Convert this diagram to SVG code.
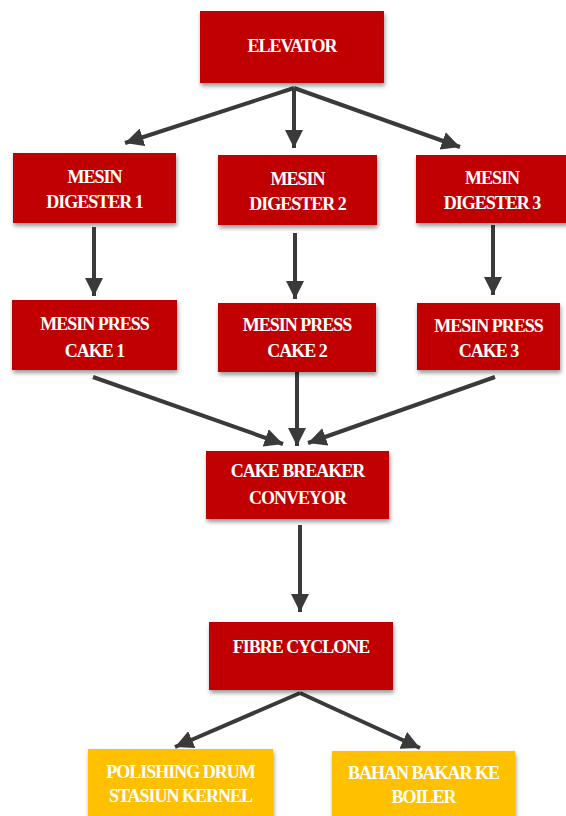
<svg xmlns="http://www.w3.org/2000/svg" width="566" height="816" viewBox="0 0 566 816">
<defs>
<filter id="sh" x="-10%" y="-20%" width="130%" height="150%">
<feDropShadow dx="1" dy="3" stdDeviation="2" flood-color="#000" flood-opacity="0.4"/>
</filter>
<marker id="ah" viewBox="0 0 10 10" refX="10" refY="5" markerWidth="4.6" markerHeight="4.6" markerUnits="strokeWidth" orient="auto">
<path d="M0,0 L10,5 L0,10 z" fill="#3a3a3a"/>
</marker>
<style>
.r{fill:#C00000;filter:url(#sh)}
.y{fill:#FFC000;filter:url(#sh)}
.t{fill:#fff;font-family:"Liberation Serif","DejaVu Serif",serif;font-weight:bold;font-size:18px;letter-spacing:-1px;text-anchor:middle}
.c{stroke:#3a3a3a;stroke-width:4;fill:none;marker-end:url(#ah)}
</style>
</defs>
<rect width="566" height="816" fill="#fff"/>
<g id="connectors">
<line class="c" x1="294" y1="88" x2="125" y2="143"/>
<line class="c" x1="294" y1="88" x2="294" y2="148"/>
<line class="c" x1="294" y1="88" x2="460" y2="147"/>
<line class="c" x1="94" y1="227" x2="94" y2="296"/>
<line class="c" x1="295" y1="233" x2="295" y2="299"/>
<line class="c" x1="493" y1="225" x2="493" y2="295"/>
<line class="c" x1="93" y1="377" x2="283" y2="444"/>
<line class="c" x1="297" y1="372" x2="297" y2="446"/>
<line class="c" x1="495" y1="377" x2="308" y2="443"/>
<line class="c" x1="300" y1="525" x2="300" y2="612"/>
<line class="c" x1="300" y1="693" x2="175" y2="747"/>
<line class="c" x1="300" y1="693" x2="420" y2="748"/>
</g>
<g id="elevator"><rect class="r" x="200" y="11" width="184" height="72"/><text class="t" x="292" y="52">ELEVATOR</text></g>
<g id="digester1"><rect class="r" x="13" y="153" width="163" height="70"/><text class="t" x="94.5" y="183">MESIN</text><text class="t" x="94.5" y="208">DIGESTER 1</text></g>
<g id="digester2"><rect class="r" x="218" y="155" width="159" height="70"/><text class="t" x="297.5" y="185">MESIN</text><text class="t" x="297.5" y="210">DIGESTER 2</text></g>
<g id="digester3"><rect class="r" x="416" y="155" width="152" height="68"/><text class="t" x="492" y="184">MESIN</text><text class="t" x="492" y="209">DIGESTER 3</text></g>
<g id="press1"><rect class="r" x="12" y="300" width="165" height="70"/><text class="t" x="94.5" y="330">MESIN PRESS</text><text class="t" x="94.5" y="357">CAKE 1</text></g>
<g id="press2"><rect class="r" x="218" y="303" width="158" height="69"/><text class="t" x="297" y="331">MESIN PRESS</text><text class="t" x="297" y="357">CAKE 2</text></g>
<g id="press3"><rect class="r" x="417" y="303" width="143" height="67"/><text class="t" x="488.5" y="332">MESIN PRESS</text><text class="t" x="488.5" y="357">CAKE 3</text></g>
<g id="cakebreaker"><rect class="r" x="206" y="451" width="183" height="68"/><text class="t" x="297.5" y="477">CAKE BREAKER</text><text class="t" x="297.5" y="504">CONVEYOR</text></g>
<g id="fibrecyclone"><rect class="r" x="209" y="622" width="184" height="68"/><text class="t" x="301" y="653">FIBRE CYCLONE</text></g>
<g id="polishing"><rect class="y" x="88" y="749" width="185" height="80"/><text class="t" x="180.5" y="778">POLISHING DRUM</text><text class="t" x="180.5" y="802">STASIUN KERNEL</text></g>
<g id="bahanbakar"><rect class="y" x="332" y="751" width="183" height="80"/><text class="t" x="423.5" y="779">BAHAN BAKAR KE</text><text class="t" x="423.5" y="803">BOILER</text></g>
</svg>
